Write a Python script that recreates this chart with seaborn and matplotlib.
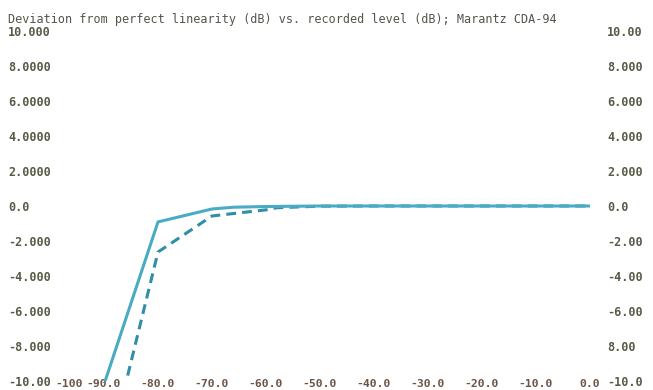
import numpy as np
import pandas as pd
import matplotlib
matplotlib.use("Agg")
import matplotlib.pyplot as plt
import matplotlib.transforms as mtransforms
import seaborn as sns

# datos (nivel grabado dB, desviacion dB)
nivel_solido = [-90, -80, -70, -66, -60, -50, -40, -30, -20, -10, 0]
desv_solido = [-10.2, -0.91, -0.17, -0.07, -0.03, 0.0, 0.0, 0.0, 0.0, 0.0, 0.0]
nivel_guion = [-90, -80, -70, -60, -58, -50, -40, -30, -20, -10, 0]
desv_guion = [-15.2, -2.63, -0.57, -0.22, -0.1, -0.01, 0.0, 0.0, 0.0, 0.0, 0.0]

yticks = [10, 8, 6, 4, 2, 0, -2, -4, -6, -8, -10]
etiq_izq = ["10.000", "8.0000", "6.0000", "4.0000", "2.0000", "0.0",
            "-2.000", "-4.000", "-6.000", "-8.000", "-10.00"]
etiq_der = ["10.00", "8.000", "6.000", "4.000", "2.000", "0.0",
            "-2.00", "-4.00", "-6.00", "8.00", "-10.0"]
xticks = [-100, -90, -80, -70, -60, -50, -40, -30, -20, -10, 0]
etiq_x = ["-100", "-90.0", "-80.0", "-70.0", "-60.0", "-50.0",
          "-40.0", "-30.0", "-20.0", "-10.0", "0.0"]

titulo = "Deviation from perfect linearity (dB) vs. recorded level (dB); Marantz CDA-94"

sns.set_style("white")
plt.rcParams['font.family'] = ['DejaVu Sans Mono']

fig = plt.figure(figsize=(6.53, 3.90), dpi=100)
W, H = 653, 390
ax = fig.add_axes([50 / W, 9 / H, 540 / W, 350 / H])

df_s = pd.DataFrame({'nivel': nivel_solido, 'desv': desv_solido})
df_g = pd.DataFrame({'nivel': nivel_guion, 'desv': desv_guion})
# primero la discontinua, la continua encima
sns.lineplot(data=df_g, x='nivel', y='desv', ax=ax, color='#2f8ea8', linewidth=2.2)
ax.lines[0].set_dashes([3.2, 2.0])
sns.lineplot(data=df_s, x='nivel', y='desv', ax=ax, color='#4aabc4', linewidth=2.2)

ax.set_xlim(-100, 0)
ax.set_ylim(-10, 10)
for s in ax.spines.values():
    s.set_visible(False)
ax.set_xlabel('')
ax.set_ylabel('')

ax.set_yticks(yticks)
ax.set_yticklabels(etiq_izq)
ax.tick_params(axis='y', length=0, pad=30.2, labelsize=8.5, labelcolor='#5a5a48')
for t in ax.get_yticklabels():
    t.set_ha('left')
    t.set_fontweight('bold')

ax.set_xticks(xticks)
ax.set_xticklabels(etiq_x)
ax.tick_params(axis='x', length=0, pad=-1.5, labelsize=8.2, labelcolor='#6a5548')
for t in ax.get_xticklabels():
    t.set_fontweight('bold')
desp = mtransforms.ScaledTranslation(19 / 100, 0, fig.dpi_scale_trans)
lbl0 = ax.get_xticklabels()[0]
lbl0.set_transform(lbl0.get_transform() + desp)

ax2 = ax.twinx()
ax2.set_ylim(-10, 10)
for s in ax2.spines.values():
    s.set_visible(False)
ax2.set_yticks(yticks)
ax2.set_yticklabels(etiq_der)
ax2.tick_params(axis='y', length=0, pad=12.2, labelsize=8.5, labelcolor='#5a5a48')
for t in ax2.get_yticklabels():
    t.set_fontweight('bold')

fig.text(8 / W, 1 - 19 / H, titulo, fontsize=8.5, color='#55554d', va='center', ha='left')

fig.savefig('out.png', dpi=100)
